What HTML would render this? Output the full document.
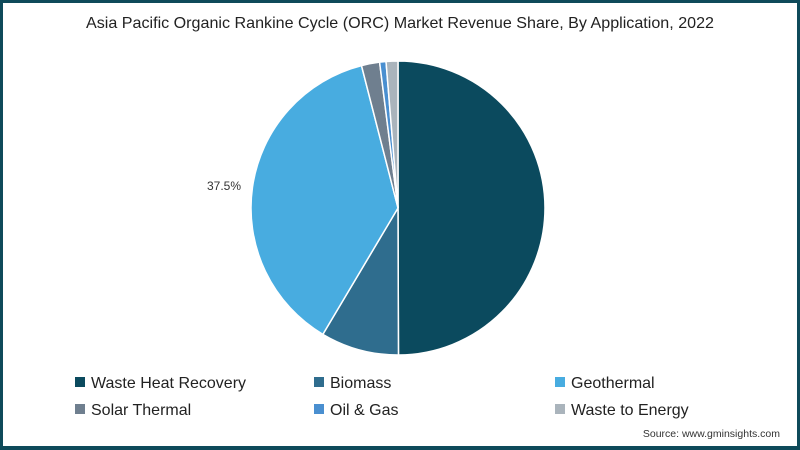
<!DOCTYPE html>
<html><head><meta charset="utf-8"><style>
html,body{margin:0;padding:0;width:800px;height:450px;overflow:hidden;background:#fff}
#frame{position:absolute;left:0;top:0;width:794px;height:443px;border:3px solid #0e4a5a;border-bottom-width:4px;background:#fff}
svg{position:absolute;left:0;top:0}
text{font-family:"Liberation Sans",sans-serif}
</style></head><body>
<div id="frame"></div>
<svg id="chart" width="800" height="450">
<text x="400" y="28" text-anchor="middle" font-size="16" textLength="628" lengthAdjust="spacingAndGlyphs" fill="#222">Asia Pacific Organic Rankine Cycle (ORC) Market Revenue Share, By Application, 2022</text>
<text x="241" y="190" text-anchor="end" font-size="12" fill="#333">37.5%</text>
<text x="780" y="437" text-anchor="end" font-size="10.5" fill="#333">Source: www.gminsights.com</text>
</svg>
<script>
const categories=["Waste Heat Recovery","Biomass","Geothermal","Solar Thermal","Oil & Gas","Waste to Energy"];
const shares=[50,8.6,37.5,2,0.7,1.3];
const colors=["#0b4a5e","#2f6d8e","#48ace0","#6f7f8f","#4a8fd0","#aab4bc"];
const svg=document.getElementById('chart');
const NS="http://www.w3.org/2000/svg";
const cx=398,cy=208,r=147;
const total=shares.reduce((a,b)=>a+b,0);
let a0=0;
function pt(a){return [cx+r*Math.sin(a),cy-r*Math.cos(a)];}
shares.forEach((v,i)=>{
  const a1=a0+v/total*2*Math.PI;
  const p0=pt(a0),p1=pt(a1);
  const large=(a1-a0)>Math.PI?1:0;
  const p=document.createElementNS(NS,'path');
  p.setAttribute('d',`M${cx},${cy}L${p0[0]},${p0[1]}A${r},${r} 0 ${large} 1 ${p1[0]},${p1[1]}Z`);
  p.setAttribute('fill',colors[i]);
  p.setAttribute('stroke','#fff');
  p.setAttribute('stroke-width','1.5');
  
  
  svg.appendChild(p);
  a0=a1;
});
const lx=[75,314,555],ly=[383,410];
categories.forEach((c,i)=>{
  const g=document.createElementNS(NS,'g');
  
  
  const x=lx[i%3],y=ly[Math.floor(i/3)];
  const s=document.createElementNS(NS,'rect');
  s.setAttribute('x',x);s.setAttribute('y',y-6);s.setAttribute('width',10);s.setAttribute('height',10);s.setAttribute('fill',colors[i]);
  const t=document.createElementNS(NS,'text');
  t.setAttribute('x',x+16);t.setAttribute('y',y+5);t.setAttribute('font-size','16');t.setAttribute('fill','#222');
  t.textContent=c;
  g.appendChild(s);g.appendChild(t);svg.appendChild(g);
});
</script>
</body></html>
